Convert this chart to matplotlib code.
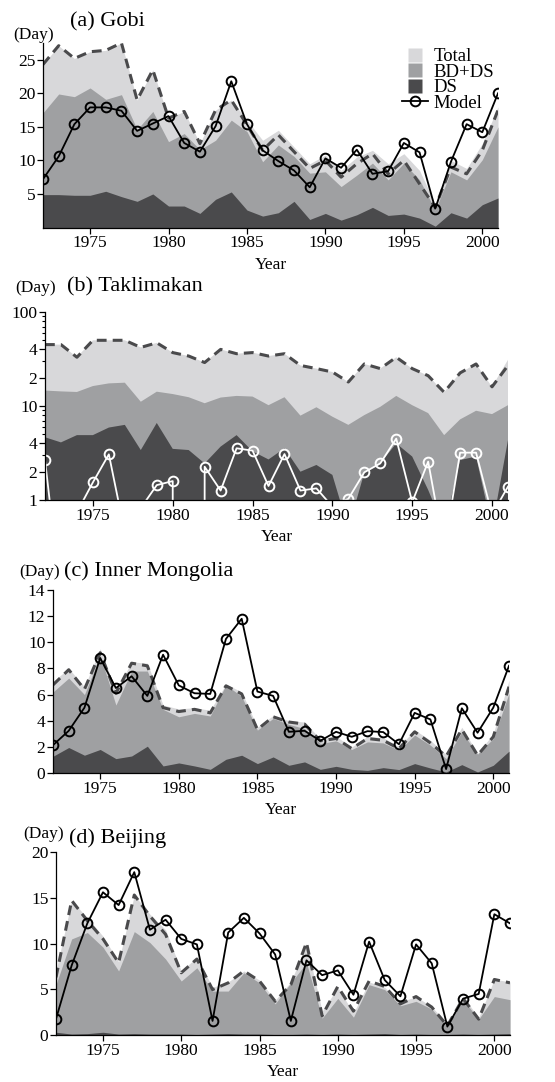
import matplotlib
matplotlib.use("Agg")
import matplotlib.pyplot as plt
from matplotlib.lines import Line2D

# --- datos (dias por anio) ---
years = list(range(1972, 2002))

# (a) Gobi
gobi_total = [24.3, 27.1, 25.2, 26.2, 26.4, 27.5, 19.0, 23.5, 16.3, 17.3, 12.5, 17.5, 19.0, 16.0, 13.0,
              14.5, 12.0, 9.5, 10.8, 8.5, 10.5, 11.5, 9.5, 11.0, 8.5, 3.5, 10.0, 8.8, 12.5, 18.0]
gobi_bdds = [17.1, 19.9, 19.5, 20.8, 19.1, 19.8, 14.6, 17.3, 12.8, 14.0, 11.6, 13.0, 16.0, 14.3, 9.8,
             12.3, 10.6, 8.1, 8.3, 6.1, 7.8, 9.6, 7.1, 9.6, 7.1, 2.6, 8.3, 7.1, 10.1, 15.0]
gobi_ds = [4.9, 4.9, 4.8, 4.8, 5.4, 4.6, 3.9, 5.0, 3.2, 3.2, 2.1, 4.2, 5.3, 2.6, 1.7,
           2.2, 3.9, 1.2, 2.1, 1.1, 1.9, 3.0, 1.8, 2.0, 1.4, 0.2, 2.2, 1.4, 3.4, 4.4]
gobi_dashed = [24.3, 27.1, 25.2, 26.2, 26.4, 27.5, 19.0, 23.5, 16.3, 17.3, 12.5, 17.5, 19.0, 15.3, 11.5,
               13.8, 11.3, 8.8, 10.0, 7.5, 9.5, 11.0, 8.0, 10.0, 6.5, 3.0, 9.0, 8.0, 11.5, 17.5]
gobi_model = [7.2, 10.6, 15.4, 17.9, 17.9, 17.4, 14.4, 15.5, 16.6, 12.6, 11.3, 15.1, 21.8, 15.4, 11.5,
              9.9, 8.5, 6.0, 10.3, 8.9, 11.6, 8.0, 8.4, 12.6, 11.2, 2.8, 9.8, 15.4, 14.2, 20.0]

# (b) Taklimakan (escala log)
takla_total = [45, 45, 33, 50, 50, 50, 42, 47, 37, 34, 29, 40, 36, 37, 34,
               36, 27, 25, 23, 18, 28, 25, 33, 25, 21, 14, 22.5, 28, 16, 31]
takla_bdds = [14.6, 14.3, 14.1, 16.3, 17.4, 17.7, 11.1, 14.2, 13.4, 12.4, 10.7, 12.3, 12.8, 12.6, 10.2,
              12.4, 7.9, 9.7, 7.7, 6.3, 8.0, 9.8, 12.8, 10.2, 8.4, 4.9, 7.2, 8.9, 8.2, 10.2]
takla_ds = [4.65, 4.1, 4.9, 4.9, 5.9, 6.3, 3.4, 6.6, 3.5, 3.4, 2.45, 3.7, 4.9, 3.3, 2.7,
            3.55, 2.0, 2.36, 1.85, 0.5, 1.95, 2.45, 4.0, 2.9, 1.28, 0.5, 2.66, 2.9, 0.5, 4.35]
takla_dashed = [45, 45, 33, 50, 50, 50, 42, 47, 37, 34, 29, 40, 36, 37, 34,
                36, 27, 25, 23, 18, 28, 25, 33, 25, 21, 14, 22.5, 28, 16, 27]
takla_model = [2.66, 0.09, 0.74, 1.54, 3.06, 0.45, 0.82, 1.44, 1.59, 0, 2.26, 1.26, 3.55, 3.35, 1.41,
               3.08, 1.26, 1.33, 0.85, 1.03, 1.97, 2.45, 4.5, 0.95, 2.56, 0.3, 3.19, 3.19, 0.7, 1.39]

# (c) Inner Mongolia
im_total = [7.0, 8.0, 6.6, 9.5, 6.3, 8.5, 8.4, 5.2, 4.9, 5.0, 4.8, 6.8, 6.2, 3.5, 4.4,
            4.0, 3.9, 2.6, 2.8, 2.0, 2.8, 2.7, 2.0, 3.3, 2.5, 1.4, 3.5, 1.5, 3.0, 7.1]
im_bdds = [6.2, 7.26, 6.0, 9.0, 5.2, 7.8, 7.8, 4.87, 4.3, 4.56, 4.36, 6.74, 5.85, 3.28, 4.18,
           3.72, 3.4, 2.26, 2.46, 1.8, 2.38, 2.3, 1.74, 2.9, 2.13, 1.1, 3.15, 1.44, 2.64, 6.1]
im_ds = [1.28, 1.95, 1.36, 1.8, 1.1, 1.3, 2.05, 0.54, 0.77, 0.54, 0.28, 1.05, 1.36, 0.72, 1.23,
         0.59, 0.85, 0.28, 0.51, 0.28, 0.2, 0.41, 0.26, 0.72, 0.38, 0.08, 0.64, 0.08, 0.59, 1.67]
im_dashed = [6.74, 7.9, 6.4, 9.2, 6.1, 8.4, 8.2, 5.0, 4.7, 4.87, 4.6, 6.67, 6.05, 3.33, 4.3,
             3.9, 3.74, 2.46, 2.64, 1.87, 2.64, 2.5, 1.87, 3.15, 2.3, 1.28, 3.33, 1.36, 2.77, 6.6]
im_model = [2.13, 3.23, 5.0, 8.8, 6.5, 7.4, 5.9, 9.05, 6.7, 6.1, 6.05, 10.26, 11.8, 6.23, 5.9,
            3.15, 3.23, 2.46, 3.15, 2.77, 3.2, 3.13, 2.2, 4.6, 4.1, 0.3, 4.95, 3.08, 5.0, 8.2]

# (d) Beijing
bj_total = [7.0, 14.7, 12.8, 10.8, 8.0, 15.3, 13.2, 11.5, 7.0, 8.5, 5.2, 5.8, 7.0, 6.0, 3.8,
            5.8, 10.0, 2.6, 5.2, 2.4, 5.8, 5.2, 3.6, 4.2, 3.1, 1.2, 4.2, 1.9, 6.1, 5.8]
bj_bdds = [5.5, 10.5, 11.2, 9.6, 7.0, 11.3, 10.1, 8.3, 5.9, 7.35, 4.8, 4.8, 6.8, 5.7, 3.4,
           5.7, 7.9, 1.84, 4.0, 1.95, 5.5, 4.96, 3.2, 3.68, 2.83, 0.92, 3.86, 1.73, 4.2, 3.86]
bj_ds = [0.3, 0.1, 0.15, 0.3, 0.1, 0.15, 0.1, 0.1, 0.1, 0.05, 0.1, 0.15, 0.1, 0.1, 0.05,
         0.05, 0.1, 0.05, 0.1, 0.05, 0.1, 0.15, 0.05, 0.1, 0.05, 0.05, 0.1, 0.05, 0.1, 0.15]
bj_dashed = [6.3, 14.7, 12.5, 10.5, 7.9, 15.3, 13.0, 11.0, 6.8, 8.3, 4.96, 5.7, 7.0, 5.9, 3.68,
             5.5, 10.1, 2.1, 5.3, 2.6, 5.9, 5.3, 3.4, 4.2, 3.05, 1.0, 4.0, 1.73, 6.07, 5.7]
bj_model = [1.76, 7.6, 12.2, 15.6, 14.2, 17.8, 11.5, 12.6, 10.5, 9.9, 1.54, 11.2, 12.8, 11.1, 8.8,
            1.54, 8.16, 6.54, 7.06, 4.4, 10.2, 6.0, 4.23, 9.9, 7.83, 0.92, 3.97, 4.49, 13.2, 12.2]

# --- estilo ---
C_LIGHT = "#d8d8da"
C_MID = "#9fa0a2"
C_DARK = "#4a4a4c"
C_DASH = "#4a4a4c"

plt.rcParams["font.family"] = ["Liberation Serif", "DejaVu Serif"]

W, H = 555, 1082
fig = plt.figure(figsize=(W / 100, H / 100), dpi=100)


def px_axes(left, top, right, bottom):
    return fig.add_axes([left / W, 1 - bottom / H, (right - left) / W, (bottom - top) / H])


def dibujar(ax, total, bdds, ds, dashed, model, model_color, base=0):
    ax.fill_between(years, base, total, color=C_LIGHT, lw=0)
    ax.fill_between(years, base, bdds, color=C_MID, lw=0)
    ax.fill_between(years, base, ds, color=C_DARK, lw=0)
    ax.plot(years, dashed, color=C_DASH, lw=2.2, dashes=(3.2, 2.0))
    ax.plot(years, model, color=model_color, lw=1.3, marker="o", ms=7,
            mfc="none", mec=model_color, mew=1.4)
    ax.set_xlim(1972, 2001)
    ax.set_xticks([1975, 1980, 1985, 1990, 1995, 2000])
    ax.spines["top"].set_visible(False)
    ax.spines["right"].set_visible(False)
    for s in ("left", "bottom"):
        ax.spines[s].set_linewidth(0.9)
        ax.spines[s].set_zorder(5)
    ax.tick_params(direction="out", length=4, width=0.9, labelsize=12.5, pad=1.5)
    ax.set_xlabel("Year", fontsize=12.5, labelpad=4)


def etiquetas(x_day, y_day, x_tit, y_tit, titulo):
    fig.text(x_day / W, 1 - y_day / H, "(Day)", fontsize=12.5, ha="left", va="center")
    fig.text(x_tit / W, 1 - y_tit / H, titulo, fontsize=16, ha="left", va="center")


# (a)
ax_a = px_axes(43, 43, 498, 227.5)
dibujar(ax_a, gobi_total, gobi_bdds, gobi_ds, gobi_dashed, gobi_model, "black")
ax_a.set_ylim(0, 27.5)
ax_a.set_yticks([5, 10, 15, 20, 25])
etiquetas(13, 35, 70, 22, "(a) Gobi")

handles = [
    Line2D([], [], ls="none", marker="s", ms=10, mfc=C_LIGHT, mec="none"),
    Line2D([], [], ls="none", marker="s", ms=10, mfc=C_MID, mec="none"),
    Line2D([], [], ls="none", marker="s", ms=10, mfc=C_DARK, mec="none"),
    Line2D([], [], color="black", lw=1.3, marker="o", ms=7, mfc="none", mew=1.4),
]
ax_a.legend(handles, ["Total", "BD+DS", "DS", "Model"], loc="upper left",
            bbox_to_anchor=(402 / W, 1 - 48 / H), bbox_transform=fig.transFigure,
            frameon=False, fontsize=13.5, handlelength=1.4, handletextpad=0.3,
            labelspacing=-0.08, borderpad=0, borderaxespad=0, numpoints=1)

# (b)
ax_b = px_axes(45, 312, 508, 500)
ax_b.set_yscale("log", nonpositive="clip")
dibujar(ax_b, takla_total, takla_bdds, takla_ds, takla_dashed, takla_model, "white")
ax_b.set_ylim(1, 100)
ax_b.set_yticks([1, 2, 4, 10, 20, 40, 100])
ax_b.set_yticklabels(["1", "2", "4", "10", "2", "4", "100"])
ax_b.set_yticks([3, 5, 6, 7, 8, 9, 30, 50, 60, 70, 80, 90], minor=True)
ax_b.yaxis.set_minor_formatter(plt.NullFormatter())
ax_b.tick_params(which="minor", length=2.5, width=0.8)
etiquetas(15, 288, 67, 287, "(b) Taklimakan")

# (c)
ax_c = px_axes(53, 590, 509, 773)
dibujar(ax_c, im_total, im_bdds, im_ds, im_dashed, im_model, "black")
ax_c.set_ylim(0, 14)
ax_c.set_yticks([0, 2, 4, 6, 8, 10, 12, 14])
etiquetas(19, 572, 64, 571, "(c) Inner Mongolia")

# (d)
ax_d = px_axes(56, 852, 510, 1035)
dibujar(ax_d, bj_total, bj_bdds, bj_ds, bj_dashed, bj_model, "black")
ax_d.set_ylim(0, 20)
ax_d.set_yticks([0, 5, 10, 15, 20])
etiquetas(23, 834, 69, 838, "(d) Beijing")

fig.savefig("out.png", dpi=100)
